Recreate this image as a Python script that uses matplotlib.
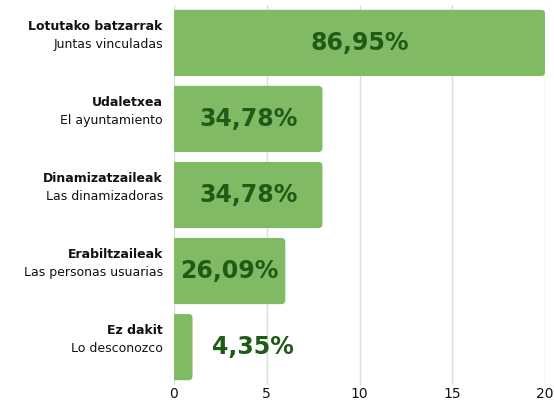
import matplotlib as mpl

mpl.use("Agg")
import matplotlib.pyplot as plt
from matplotlib.patches import FancyBboxPatch

categories_eu = ["Lotutako batzarrak", "Udaletxea", "Dinamizatzaileak", "Erabiltzaileak", "Ez dakit"]
categories_es = ["Juntas vinculadas", "El ayuntamiento", "Las dinamizadoras", "Las personas usuarias", "Lo desconozco"]
counts = [20, 8, 8, 6, 1]
pct_labels = ["86,95%", "34,78%", "34,78%", "26,09%", "4,35%"]
x_ticks = [0, 5, 10, 15, 20]

BAR = "#80BA65"
TXT = "#1E5B17"
GRID = "#DCDCDC"
INK = "#111111"

plt.rcParams["font.family"] = ["DejaVu Sans"]

fig = plt.figure(figsize=(5.54, 4.05), dpi=100)
ax = fig.add_axes([0.314, 0.049, 0.670, 0.939])

ypos = list(range(len(counts)))
bars = ax.barh(ypos, counts, height=0.87, color=BAR)
ax.set_ylim(len(counts) - 0.5, -0.5)
ax.set_xlim(0, 20)

# swap the plain rectangles for ones with rounded right corners
for rect in bars.patches:
    x, y = rect.get_x(), rect.get_y()
    w, h = rect.get_width(), rect.get_height()
    rect.set_visible(False)
    r = 0.22
    box = FancyBboxPatch((x - 0.5, y), w + 0.5, h,
                         boxstyle=f"round,pad=0,rounding_size={r}",
                         mutation_aspect=0.245, linewidth=0,
                         facecolor=BAR, zorder=2)
    ax.add_patch(box)

for i, (v, lab) in enumerate(zip(counts, pct_labels)):
    if v > 3:
        ax.text(v / 2, i, lab, ha="center", va="center", fontsize=17,
                fontweight="bold", color=TXT, zorder=3)
    else:
        ax.text(v + 1.05, i, lab, ha="left", va="center", fontsize=17,
                fontweight="bold", color=TXT, zorder=3)

ax.set_xticks(x_ticks)
ax.set_xticklabels([str(t) for t in x_ticks], fontsize=10, color=INK)
ax.set_yticks([])
ax.grid(axis="x", color=GRID, linewidth=1, zorder=0)
ax.set_axisbelow(True)
for s in ax.spines.values():
    s.set_visible(False)
ax.tick_params(axis="x", length=0, pad=1.5)

for i, (eu, es) in enumerate(zip(categories_eu, categories_es)):
    ax.annotate(eu, xy=(0, i), xycoords=("axes fraction", "data"),
                xytext=(-8, 12), textcoords="offset points",
                ha="right", va="center", fontsize=9, fontweight="bold", color=INK)
    ax.annotate(es, xy=(0, i), xycoords=("axes fraction", "data"),
                xytext=(-8, -1), textcoords="offset points",
                ha="right", va="center", fontsize=9, color=INK)

fig.savefig("out.png", dpi=100)
